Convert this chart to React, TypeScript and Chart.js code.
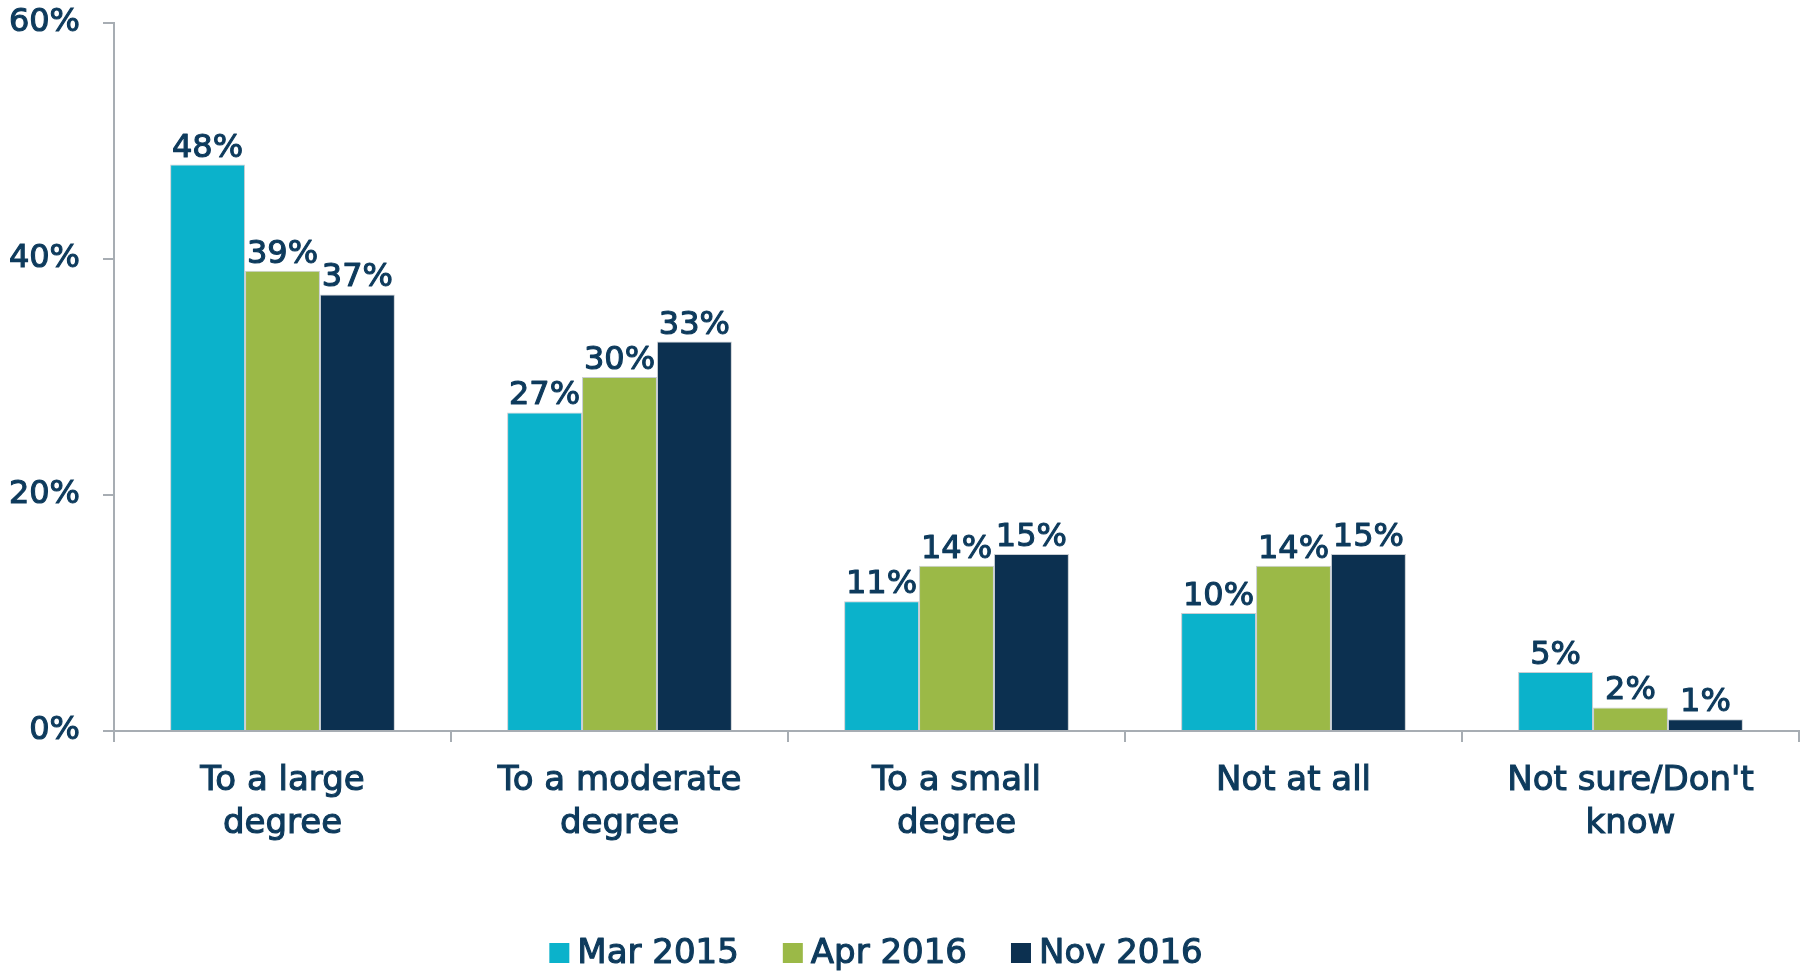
import React, { useEffect, useRef } from "react";
import { Chart, registerables } from "chart.js";

Chart.register(...registerables);

const categories: (string | string[])[] = [
  ["To a large", "degree"],
  ["To a moderate", "degree"],
  ["To a small", "degree"],
  "Not at all",
  ["Not sure/Don't", "know"],
];
const seriesNames = ["Mar 2015", "Apr 2016", "Nov 2016"];
const mar2015 = [48, 27, 11, 10, 5];
const apr2016 = [39, 30, 14, 14, 2];
const nov2016 = [37, 33, 15, 15, 1];
const seriesColors = ["#0BB2CB", "#9BB947", "#0C3050"];
const yTicks = [0, 20, 40, 60];

const TEXT = "#0D3A5C";
const AXIS = "#A7ADB3";
const FONT = "'DejaVu Sans', sans-serif";
const STROKE = 1.1;

const dataLabelPlugin = {
  id: "dataLabels",
  afterDatasetsDraw(chart: any) {
    const ctx = chart.ctx;
    ctx.save();
    ctx.font = `32px ${FONT}`;
    ctx.fillStyle = TEXT;
    ctx.strokeStyle = TEXT;
    ctx.lineWidth = STROKE;
    ctx.lineJoin = "round";
    ctx.textAlign = "center";
    ctx.textBaseline = "alphabetic";
    chart.data.datasets.forEach((ds: any, i: number) => {
      const meta = chart.getDatasetMeta(i);
      meta.data.forEach((bar: any, j: number) => {
        const t = `${ds.data[j]}%`;
        ctx.strokeText(t, bar.x, bar.y - 8);
        ctx.fillText(t, bar.x, bar.y - 8);
      });
    });
    ctx.restore();
  },
};

const legendPlugin = {
  id: "customLegend",
  afterDraw(chart: any) {
    const ctx = chart.ctx;
    ctx.save();
    ctx.font = `34px ${FONT}`;
    ctx.textBaseline = "middle";
    ctx.textAlign = "left";
    ctx.lineWidth = STROKE;
    ctx.lineJoin = "round";
    const box = 20;
    const gap = 8;
    const itemPad = 44;
    const widths = chart.data.datasets.map(
      (ds: any) => box + gap + ctx.measureText(ds.label).width
    );
    const total = widths.reduce((a: number, b: number) => a + b, 0) + itemPad * (widths.length - 1);
    let x = chart.width / 2 - 25 - total / 2;
    const cy = 953;
    chart.data.datasets.forEach((ds: any, i: number) => {
      ctx.fillStyle = ds.backgroundColor;
      ctx.fillRect(x, cy - box / 2, box, box);
      ctx.fillStyle = TEXT;
      ctx.strokeStyle = TEXT;
      ctx.strokeText(ds.label, x + box + gap, cy + 1);
      ctx.fillText(ds.label, x + box + gap, cy + 1);
      x += widths[i] + itemPad;
    });
    ctx.restore();
  },
};

export default function App() {
  const ref = useRef<HTMLCanvasElement>(null);

  useEffect(() => {
    document.body.style.margin = "0";
    const canvas = ref.current!;
    const values = [mar2015, apr2016, nov2016];
    const chart = new Chart(canvas, {
      type: "bar",
      data: {
        labels: categories,
        datasets: seriesNames.map((name, i) => ({
          label: name,
          data: values[i],
          backgroundColor: seriesColors[i],
          borderColor: "#C9CED3",
          borderWidth: 1,
          categoryPercentage: 0.667,
          barPercentage: 1.0,
        })),
      },
      options: {
        responsive: false,
        animation: false,
        layout: { padding: { top: 0, left: 0, right: 3, bottom: 0 } },
        plugins: {
          legend: { display: false },
          tooltip: { enabled: false },
        },
        scales: {
          x: {
            grid: {
              display: true,
              drawOnChartArea: false,
              drawTicks: true,
              tickLength: 11,
              color: AXIS,
              lineWidth: 2,
              offset: true,
            },
            border: { display: true, color: AXIS, width: 2 },
            ticks: {
              color: TEXT,
              font: { family: FONT, size: 34, lineHeight: 1.25 },
              padding: 18,
              maxRotation: 0,
              autoSkip: false,
              textStrokeColor: TEXT,
              textStrokeWidth: STROKE,
            },
            afterFit(scale: any) {
              scale.height = 241;
            },
          },
          y: {
            min: 0,
            max: 60,
            afterBuildTicks(scale: any) {
              scale.ticks = yTicks.map((v) => ({ value: v }));
            },
            grid: {
              display: true,
              drawOnChartArea: false,
              drawTicks: true,
              tickLength: 11,
              color: AXIS,
              lineWidth: 2,
            },
            border: { display: true, color: AXIS, width: 2 },
            ticks: {
              color: TEXT,
              font: { family: FONT, size: 32, lineHeight: 0 },
              padding: 23,
              callback: (v: any) => `${v}%`,
              textStrokeColor: TEXT,
              textStrokeWidth: STROKE,
            },
            afterFit(scale: any) {
              scale.width = 114;
            },
          },
        },
      },
      plugins: [dataLabelPlugin, legendPlugin],
    });
    return () => chart.destroy();
  }, []);

  return (
    <div style={{ width: 1802, height: 972, background: "#fff" }}>
      <canvas ref={ref} width={1802} height={972} style={{ display: "block" }} />
    </div>
  );
}
